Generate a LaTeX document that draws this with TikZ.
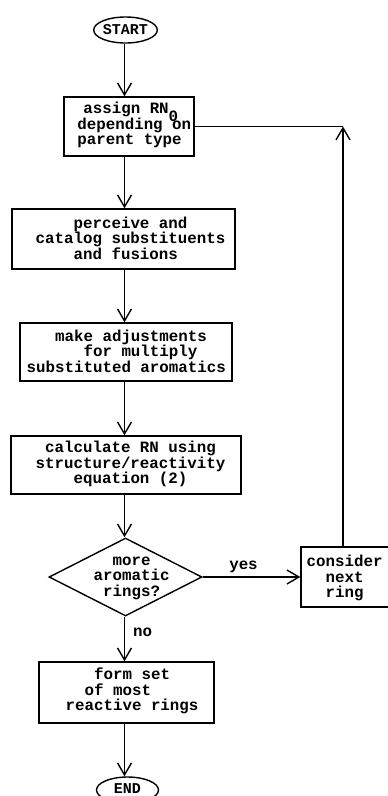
\documentclass[tikz,border=0pt]{standalone}
\usepackage{fontspec}
\setmonofont{Liberation Mono}
\usetikzlibrary{shapes.geometric,arrows.meta}
\begin{document}
\begin{tikzpicture}[x=1pt,y=-1pt,
  line width=1.4pt,
  font=\fontsize{15.8}{15.5}\selectfont\ttfamily\bfseries,
  stepbox/.style={draw,rectangle,inner sep=0pt},
  steptext/.style={anchor=west,inner sep=0pt,align=left},
  term/.style={draw,ellipse,inner sep=0pt,minimum width=62pt,minimum height=26pt,
    font=\fontsize{15}{15}\selectfont\ttfamily\bfseries},
  decision/.style={draw,diamond,inner sep=0pt,minimum width=153pt,minimum height=78pt},
  arr/.style={-{Straight Barb[length=12pt,width=14pt,line width=1.4pt]}},
  lbl/.style={inner sep=0pt}]
\useasboundingbox (0,0) rectangle (388,796);

% vertical spine of the main flow
\coordinate (spine) at (124.5,0);
% column of the loop-back line
\coordinate (loop) at (343,0);

% terminals
\node[term] (start) at (125.5,30) {START};
\node[term] (end) at (127.5,790) {\raisebox{3pt}{END}};

% process boxes (frames)
\node[stepbox,minimum width=130pt,minimum height=59pt] (b1) at (129,126.5) {};
\node[stepbox,minimum width=223pt,minimum height=60pt] (b2) at (123.5,239) {};
\node[stepbox,minimum width=212pt,minimum height=58pt] (b3) at (126,352) {};
\node[stepbox,minimum width=230pt,minimum height=58pt] (b4) at (126,465) {};
\node[decision] (dec) at (125.5,577) {};
\node[stepbox,minimum width=90pt,minimum height=60pt] (b5) at (346,577) {};
\node[stepbox,minimum width=175pt,minimum height=61pt] (b6) at (126.5,692.5) {};

% box texts, typed with leading blanks
\node[steptext] (b1t) at (76.7,125)
  {\hspace*{6pt}assign RN\smash{\raisebox{-8pt}{0}}\\depending on\\parent type};
\node[steptext] (b2t) at (35,238)
  {\phantom{xxxx}perceive and\\catalog substituents\\\phantom{xxxx}and fusions};
\node[steptext] (b3t) at (26,351)
  {\phantom{xxx}make adjustments\\\phantom{xxxxxx}for multiply\\substituted aromatics};
\node[steptext] (b4t) at (35,464)
  {\phantom{x}calculate RN using\\structure/reactivity\\\phantom{xxxx}equation (2)};
\node[steptext] (dect) at (93,578)
  {\phantom{xx}more\\aromatic\\\phantom{x}rings?};
\node[steptext] (b5t) at (306,578)
  {consider\\\phantom{xx}next\\\phantom{xx}ring};
\node[steptext] (b6t) at (65,691)
  {\phantom{xxx}form set\\\phantom{xx}of most\\reactive rings};

% main flow
\draw[arr] (start.south -| spine) -- (b1.north -| spine);
\draw[arr] (b1.south -| spine) -- (b2.north -| spine);
\draw[arr] (b2.south -| spine) -- (b3.north -| spine);
\draw[arr] (b3.south -| spine) -- (b4.north -| spine);
\draw[arr] (b4.south -| spine) -- (dec.north -| spine);
\draw[arr] (dec.south -| spine) -- node[lbl,anchor=west,xshift=8pt,yshift=7pt] (no) {no} (b6.north -| spine);
\draw[arr] (b6.south -| spine) -- (end.north -| spine);

% branch and loop back
\draw[arr] (dec.east) -- node[lbl,above,yshift=4pt,xshift=-8pt] (yes) {yes} (b5.west);
\draw[arr] (b5.north -| loop) -- (b1.east -| loop);
\draw (b1.east) -- (b1.east -| loop);
\end{tikzpicture}
\end{document}
